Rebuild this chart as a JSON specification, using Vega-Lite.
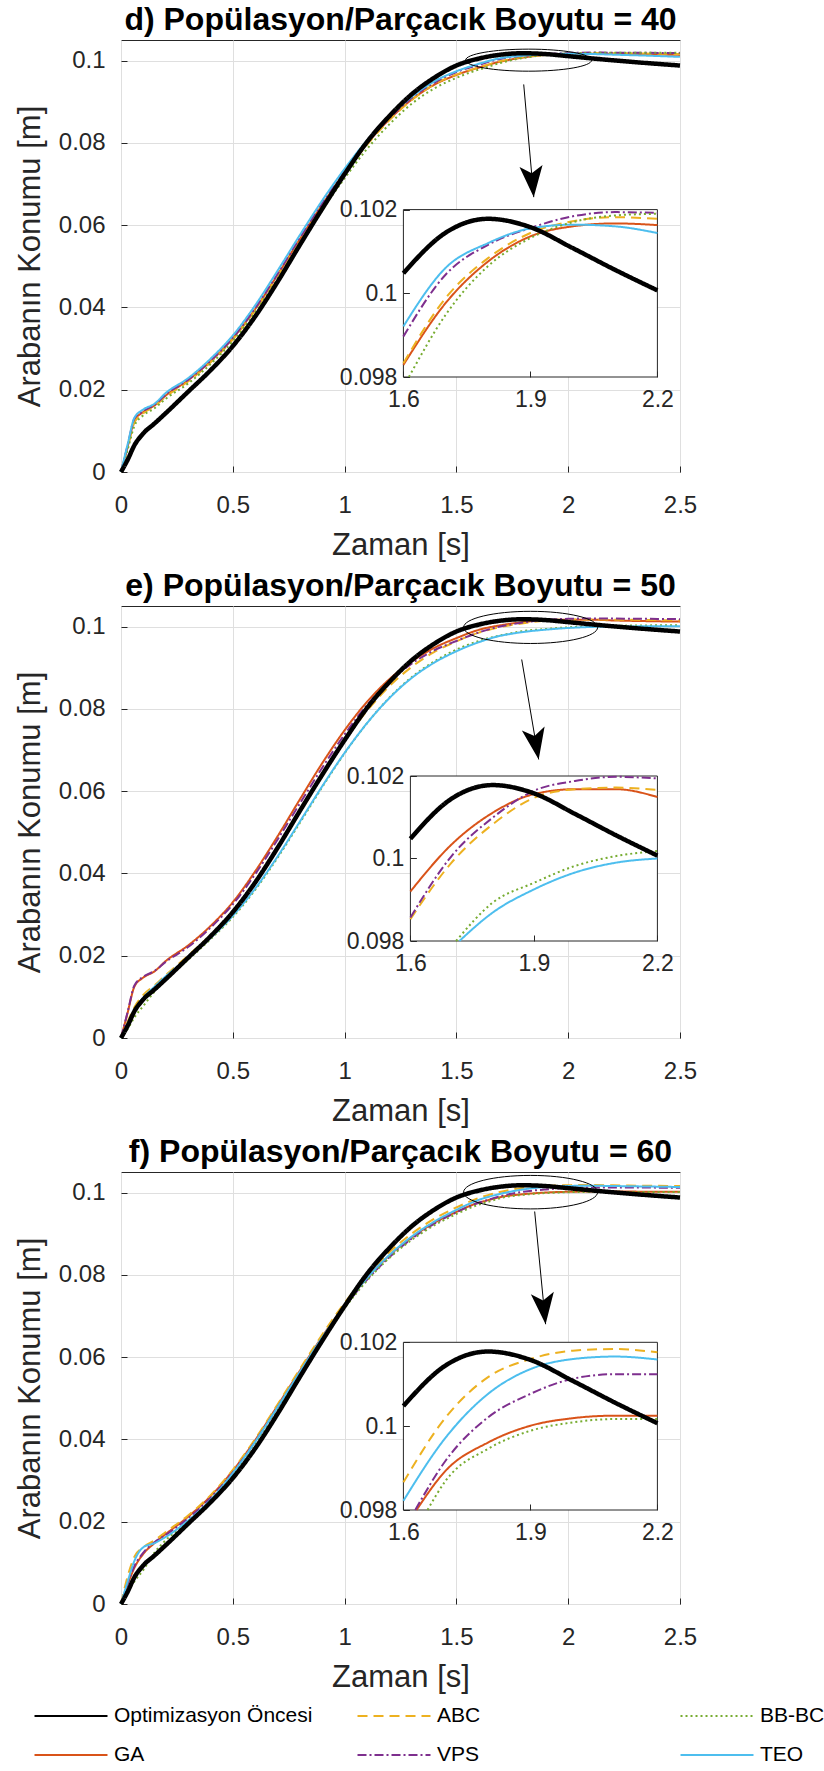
{
  "$schema": "https://vega.github.io/schema/vega-lite/v6.json",
  "background": "white",
  "padding": {"left": 13, "top": 3, "right": 5, "bottom": 5},
  "spacing": 8,
  "datasets": {
    "curves": [
      {"panel":"d","t":0,"GA":0,"ABC":0,"VPS":0,"BB-BC":0,"TEO":0,"Optimizasyon Öncesi":0},
      {"panel":"d","t":0.03,"GA":0.0062,"ABC":0.006,"VPS":0.0065,"BB-BC":0.0055,"TEO":0.0068,"Optimizasyon Öncesi":0.003},
      {"panel":"d","t":0.06,"GA":0.0125,"ABC":0.012,"VPS":0.013,"BB-BC":0.0112,"TEO":0.0132,"Optimizasyon Öncesi":0.0065},
      {"panel":"d","t":0.1,"GA":0.0146,"ABC":0.0143,"VPS":0.0148,"BB-BC":0.0138,"TEO":0.0152,"Optimizasyon Öncesi":0.0094},
      {"panel":"d","t":0.15,"GA":0.0162,"ABC":0.016,"VPS":0.0163,"BB-BC":0.0155,"TEO":0.0166,"Optimizasyon Öncesi":0.0118},
      {"panel":"d","t":0.2,"GA":0.0186,"ABC":0.0183,"VPS":0.0188,"BB-BC":0.0178,"TEO":0.0192,"Optimizasyon Öncesi":0.0143},
      {"panel":"d","t":0.3,"GA":0.0223,"ABC":0.022,"VPS":0.0224,"BB-BC":0.0215,"TEO":0.0228,"Optimizasyon Öncesi":0.0195},
      {"panel":"d","t":0.4,"GA":0.0269,"ABC":0.0266,"VPS":0.027,"BB-BC":0.0262,"TEO":0.0275,"Optimizasyon Öncesi":0.0247},
      {"panel":"d","t":0.5,"GA":0.0325,"ABC":0.0322,"VPS":0.0326,"BB-BC":0.0318,"TEO":0.0332,"Optimizasyon Öncesi":0.0306},
      {"panel":"d","t":0.6,"GA":0.0396,"ABC":0.0393,"VPS":0.0398,"BB-BC":0.0388,"TEO":0.0405,"Optimizasyon Öncesi":0.0378},
      {"panel":"d","t":0.7,"GA":0.0479,"ABC":0.0476,"VPS":0.0481,"BB-BC":0.0469,"TEO":0.0489,"Optimizasyon Öncesi":0.0462},
      {"panel":"d","t":0.8,"GA":0.0566,"ABC":0.0562,"VPS":0.0569,"BB-BC":0.0553,"TEO":0.0576,"Optimizasyon Öncesi":0.0552},
      {"panel":"d","t":0.9,"GA":0.065,"ABC":0.0646,"VPS":0.0653,"BB-BC":0.0637,"TEO":0.066,"Optimizasyon Öncesi":0.064},
      {"panel":"d","t":1.0,"GA":0.0728,"ABC":0.0724,"VPS":0.0731,"BB-BC":0.0714,"TEO":0.0737,"Optimizasyon Öncesi":0.0724},
      {"panel":"d","t":1.1,"GA":0.0798,"ABC":0.0795,"VPS":0.0801,"BB-BC":0.0785,"TEO":0.0806,"Optimizasyon Öncesi":0.0802},
      {"panel":"d","t":1.2,"GA":0.0857,"ABC":0.0855,"VPS":0.086,"BB-BC":0.0845,"TEO":0.0864,"Optimizasyon Öncesi":0.0865},
      {"panel":"d","t":1.3,"GA":0.0905,"ABC":0.0904,"VPS":0.0909,"BB-BC":0.0895,"TEO":0.0912,"Optimizasyon Öncesi":0.0918},
      {"panel":"d","t":1.4,"GA":0.0941,"ABC":0.0942,"VPS":0.0946,"BB-BC":0.0932,"TEO":0.0949,"Optimizasyon Öncesi":0.0958},
      {"panel":"d","t":1.5,"GA":0.0965,"ABC":0.0966,"VPS":0.0972,"BB-BC":0.0958,"TEO":0.0974,"Optimizasyon Öncesi":0.0988},
      {"panel":"d","t":1.6,"GA":0.09829,"ABC":0.09833,"VPS":0.09897,"BB-BC":0.0978,"TEO":0.09921,"Optimizasyon Öncesi":0.10048},
      {"panel":"d","t":1.7,"GA":0.09977,"ABC":0.09989,"VPS":0.10045,"BB-BC":0.09949,"TEO":0.10061,"Optimizasyon Öncesi":0.10145},
      {"panel":"d","t":1.8,"GA":0.10076,"ABC":0.10084,"VPS":0.10116,"BB-BC":0.10065,"TEO":0.1012,"Optimizasyon Öncesi":0.10178},
      {"panel":"d","t":1.9,"GA":0.10136,"ABC":0.10144,"VPS":0.10156,"BB-BC":0.10132,"TEO":0.10155,"Optimizasyon Öncesi":0.10158},
      {"panel":"d","t":2.0,"GA":0.1016,"ABC":0.10172,"VPS":0.10184,"BB-BC":0.1017,"TEO":0.10164,"Optimizasyon Öncesi":0.10108},
      {"panel":"d","t":2.1,"GA":0.10167,"ABC":0.10182,"VPS":0.10194,"BB-BC":0.10186,"TEO":0.1016,"Optimizasyon Öncesi":0.10056},
      {"panel":"d","t":2.2,"GA":0.10163,"ABC":0.10178,"VPS":0.10192,"BB-BC":0.1019,"TEO":0.10144,"Optimizasyon Öncesi":0.10007},
      {"panel":"d","t":2.35,"GA":0.10152,"ABC":0.1017,"VPS":0.10188,"BB-BC":0.10192,"TEO":0.1012,"Optimizasyon Öncesi":0.0994},
      {"panel":"d","t":2.5,"GA":0.10138,"ABC":0.1016,"VPS":0.10182,"BB-BC":0.1019,"TEO":0.1009,"Optimizasyon Öncesi":0.0988},
      {"panel":"d","t":1.613,"BB-BC":0.098},

      {"panel":"e","t":0,"GA":0,"ABC":0,"VPS":0,"BB-BC":0,"TEO":0,"Optimizasyon Öncesi":0},
      {"panel":"e","t":0.03,"GA":0.0062,"ABC":0.004,"VPS":0.0064,"BB-BC":0.0022,"TEO":0.0035,"Optimizasyon Öncesi":0.003},
      {"panel":"e","t":0.06,"GA":0.0125,"ABC":0.0075,"VPS":0.0128,"BB-BC":0.005,"TEO":0.0068,"Optimizasyon Öncesi":0.0065},
      {"panel":"e","t":0.1,"GA":0.0147,"ABC":0.0105,"VPS":0.0149,"BB-BC":0.0078,"TEO":0.0098,"Optimizasyon Öncesi":0.0094},
      {"panel":"e","t":0.15,"GA":0.0162,"ABC":0.0128,"VPS":0.0163,"BB-BC":0.0113,"TEO":0.0125,"Optimizasyon Öncesi":0.0118},
      {"panel":"e","t":0.2,"GA":0.0187,"ABC":0.0153,"VPS":0.0185,"BB-BC":0.0142,"TEO":0.015,"Optimizasyon Öncesi":0.0143},
      {"panel":"e","t":0.3,"GA":0.0225,"ABC":0.02,"VPS":0.0221,"BB-BC":0.019,"TEO":0.0195,"Optimizasyon Öncesi":0.0195},
      {"panel":"e","t":0.4,"GA":0.0272,"ABC":0.025,"VPS":0.0268,"BB-BC":0.024,"TEO":0.0243,"Optimizasyon Öncesi":0.0247},
      {"panel":"e","t":0.5,"GA":0.033,"ABC":0.0308,"VPS":0.0325,"BB-BC":0.0294,"TEO":0.0297,"Optimizasyon Öncesi":0.0306},
      {"panel":"e","t":0.6,"GA":0.0405,"ABC":0.0382,"VPS":0.0398,"BB-BC":0.036,"TEO":0.0363,"Optimizasyon Öncesi":0.0378},
      {"panel":"e","t":0.7,"GA":0.049,"ABC":0.0465,"VPS":0.0482,"BB-BC":0.0438,"TEO":0.0441,"Optimizasyon Öncesi":0.0462},
      {"panel":"e","t":0.8,"GA":0.058,"ABC":0.0553,"VPS":0.057,"BB-BC":0.0523,"TEO":0.0526,"Optimizasyon Öncesi":0.0552},
      {"panel":"e","t":0.9,"GA":0.0668,"ABC":0.064,"VPS":0.0657,"BB-BC":0.061,"TEO":0.0612,"Optimizasyon Öncesi":0.064},
      {"panel":"e","t":1.0,"GA":0.0748,"ABC":0.0722,"VPS":0.0738,"BB-BC":0.0692,"TEO":0.0693,"Optimizasyon Öncesi":0.0724},
      {"panel":"e","t":1.1,"GA":0.0817,"ABC":0.0795,"VPS":0.0809,"BB-BC":0.0765,"TEO":0.0765,"Optimizasyon Öncesi":0.0802},
      {"panel":"e","t":1.2,"GA":0.0872,"ABC":0.0855,"VPS":0.0866,"BB-BC":0.0827,"TEO":0.0826,"Optimizasyon Öncesi":0.0865},
      {"panel":"e","t":1.3,"GA":0.0915,"ABC":0.0902,"VPS":0.091,"BB-BC":0.0877,"TEO":0.0875,"Optimizasyon Öncesi":0.0918},
      {"panel":"e","t":1.4,"GA":0.0948,"ABC":0.0938,"VPS":0.0942,"BB-BC":0.0915,"TEO":0.0912,"Optimizasyon Öncesi":0.0958},
      {"panel":"e","t":1.5,"GA":0.0972,"ABC":0.0964,"VPS":0.0965,"BB-BC":0.0944,"TEO":0.094,"Optimizasyon Öncesi":0.0988},
      {"panel":"e","t":1.6,"GA":0.0992,"ABC":0.09853,"VPS":0.09857,"BB-BC":0.0965,"TEO":0.0962,"Optimizasyon Öncesi":0.10048},
      {"panel":"e","t":1.7,"GA":0.10034,"ABC":0.0999,"VPS":0.10006,"BB-BC":0.09788,"TEO":0.0978,"Optimizasyon Öncesi":0.10145},
      {"panel":"e","t":1.8,"GA":0.10111,"ABC":0.10083,"VPS":0.10099,"BB-BC":0.09893,"TEO":0.09869,"Optimizasyon Öncesi":0.10178},
      {"panel":"e","t":1.9,"GA":0.10156,"ABC":0.10147,"VPS":0.10164,"BB-BC":0.09941,"TEO":0.09925,"Optimizasyon Öncesi":0.10158},
      {"panel":"e","t":2.0,"GA":0.10168,"ABC":0.10168,"VPS":0.10188,"BB-BC":0.09982,"TEO":0.09966,"Optimizasyon Öncesi":0.10108},
      {"panel":"e","t":2.1,"GA":0.10168,"ABC":0.10172,"VPS":0.10198,"BB-BC":0.10006,"TEO":0.0999,"Optimizasyon Öncesi":0.10056},
      {"panel":"e","t":2.2,"GA":0.10149,"ABC":0.10166,"VPS":0.10194,"BB-BC":0.10018,"TEO":0.1,"Optimizasyon Öncesi":0.10007},
      {"panel":"e","t":2.35,"GA":0.10132,"ABC":0.1016,"VPS":0.10188,"BB-BC":0.10028,"TEO":0.10006,"Optimizasyon Öncesi":0.0994},
      {"panel":"e","t":2.5,"GA":0.1012,"ABC":0.1015,"VPS":0.1018,"BB-BC":0.10033,"TEO":0.1001,"Optimizasyon Öncesi":0.0988},
      {"panel":"e","t":1.711,"BB-BC":0.098},
      {"panel":"e","t":1.719,"TEO":0.098},

      {"panel":"f","t":0,"GA":0,"ABC":0,"VPS":0,"BB-BC":0,"TEO":0,"Optimizasyon Öncesi":0},
      {"panel":"f","t":0.03,"GA":0.0048,"ABC":0.0068,"VPS":0.005,"BB-BC":0.003,"TEO":0.0055,"Optimizasyon Öncesi":0.003},
      {"panel":"f","t":0.06,"GA":0.0088,"ABC":0.0115,"VPS":0.0092,"BB-BC":0.0055,"TEO":0.0105,"Optimizasyon Öncesi":0.0065},
      {"panel":"f","t":0.1,"GA":0.0122,"ABC":0.0138,"VPS":0.0125,"BB-BC":0.0083,"TEO":0.0138,"Optimizasyon Öncesi":0.0094},
      {"panel":"f","t":0.15,"GA":0.0148,"ABC":0.0155,"VPS":0.015,"BB-BC":0.0125,"TEO":0.0148,"Optimizasyon Öncesi":0.0118},
      {"panel":"f","t":0.2,"GA":0.017,"ABC":0.0175,"VPS":0.0168,"BB-BC":0.0155,"TEO":0.0163,"Optimizasyon Öncesi":0.0143},
      {"panel":"f","t":0.3,"GA":0.0212,"ABC":0.0215,"VPS":0.0208,"BB-BC":0.02,"TEO":0.0203,"Optimizasyon Öncesi":0.0195},
      {"panel":"f","t":0.4,"GA":0.0262,"ABC":0.0264,"VPS":0.0258,"BB-BC":0.0252,"TEO":0.0253,"Optimizasyon Öncesi":0.0247},
      {"panel":"f","t":0.5,"GA":0.0324,"ABC":0.0326,"VPS":0.032,"BB-BC":0.0316,"TEO":0.0318,"Optimizasyon Öncesi":0.0306},
      {"panel":"f","t":0.6,"GA":0.0398,"ABC":0.0401,"VPS":0.0395,"BB-BC":0.0391,"TEO":0.0394,"Optimizasyon Öncesi":0.0378},
      {"panel":"f","t":0.7,"GA":0.0482,"ABC":0.0485,"VPS":0.0478,"BB-BC":0.0474,"TEO":0.0478,"Optimizasyon Öncesi":0.0462},
      {"panel":"f","t":0.8,"GA":0.0567,"ABC":0.0571,"VPS":0.0563,"BB-BC":0.056,"TEO":0.0564,"Optimizasyon Öncesi":0.0552},
      {"panel":"f","t":0.9,"GA":0.065,"ABC":0.0655,"VPS":0.0646,"BB-BC":0.0643,"TEO":0.0648,"Optimizasyon Öncesi":0.064},
      {"panel":"f","t":1.0,"GA":0.0726,"ABC":0.0732,"VPS":0.0722,"BB-BC":0.0719,"TEO":0.0725,"Optimizasyon Öncesi":0.0724},
      {"panel":"f","t":1.1,"GA":0.0792,"ABC":0.0799,"VPS":0.0788,"BB-BC":0.0786,"TEO":0.0792,"Optimizasyon Öncesi":0.0802},
      {"panel":"f","t":1.2,"GA":0.0847,"ABC":0.0855,"VPS":0.0843,"BB-BC":0.0841,"TEO":0.0848,"Optimizasyon Öncesi":0.0865},
      {"panel":"f","t":1.3,"GA":0.0891,"ABC":0.09,"VPS":0.0888,"BB-BC":0.0885,"TEO":0.0893,"Optimizasyon Öncesi":0.0918},
      {"panel":"f","t":1.4,"GA":0.0926,"ABC":0.0936,"VPS":0.0924,"BB-BC":0.092,"TEO":0.0929,"Optimizasyon Öncesi":0.0958},
      {"panel":"f","t":1.5,"GA":0.0953,"ABC":0.0964,"VPS":0.0952,"BB-BC":0.0948,"TEO":0.0958,"Optimizasyon Öncesi":0.0988},
      {"panel":"f","t":1.6,"GA":0.09755,"ABC":0.09866,"VPS":0.09754,"BB-BC":0.09707,"TEO":0.09822,"Optimizasyon Öncesi":0.10048},
      {"panel":"f","t":1.7,"GA":0.09894,"ABC":0.10021,"VPS":0.09918,"BB-BC":0.0987,"TEO":0.09973,"Optimizasyon Öncesi":0.10145},
      {"panel":"f","t":1.8,"GA":0.09961,"ABC":0.10117,"VPS":0.10021,"BB-BC":0.09946,"TEO":0.10077,"Optimizasyon Öncesi":0.10178},
      {"panel":"f","t":1.9,"GA":0.10001,"ABC":0.1016,"VPS":0.10077,"BB-BC":0.09989,"TEO":0.10136,"Optimizasyon Öncesi":0.10158},
      {"panel":"f","t":2.0,"GA":0.10019,"ABC":0.1018,"VPS":0.10113,"BB-BC":0.10009,"TEO":0.1016,"Optimizasyon Öncesi":0.10108},
      {"panel":"f","t":2.1,"GA":0.10025,"ABC":0.10184,"VPS":0.10124,"BB-BC":0.10017,"TEO":0.10166,"Optimizasyon Öncesi":0.10056},
      {"panel":"f","t":2.2,"GA":0.10025,"ABC":0.10176,"VPS":0.10124,"BB-BC":0.10017,"TEO":0.10159,"Optimizasyon Öncesi":0.10007},
      {"panel":"f","t":2.35,"GA":0.10022,"ABC":0.10166,"VPS":0.10121,"BB-BC":0.10016,"TEO":0.10148,"Optimizasyon Öncesi":0.0994},
      {"panel":"f","t":2.5,"GA":0.1002,"ABC":0.1016,"VPS":0.10118,"BB-BC":0.10015,"TEO":0.10135,"Optimizasyon Öncesi":0.0988},
      {"panel":"f","t":1.628,"VPS":0.098},
      {"panel":"f","t":1.631,"GA":0.098},
      {"panel":"f","t":1.657,"BB-BC":0.098}
    ],
    "annot": [
      {"panel":"d","cx":1.823,"cy":0.1001,"ax":1.801,"ay":0.0942,"hx":1.846,"hy":0.0668},
      {"panel":"e","cx":1.832,"cy":0.0998,"ax":1.792,"ay":0.092,"hx":1.868,"hy":0.0677},
      {"panel":"f","cx":1.832,"cy":0.1001,"ax":1.85,"ay":0.0954,"hx":1.899,"hy":0.068}
    ],
    "frame": [{"box": 1}]
  },
  "vconcat": [
    {
      "width": 559, "height": 432,
      "title": {"text": "d) Popülasyon/Parçacık Boyutu = 40"},
      "data": {"name": "curves"},
      "transform": [
        {"filter": "datum.panel === 'd'"},
        {"fold": ["GA","ABC","VPS","BB-BC","TEO","Optimizasyon Öncesi"], "as": ["series","y"]},
        {"filter": "isValid(datum.y)"}
      ],
      "layer": [
        {
          "layer": [
            {
              "transform": [{"filter": "datum.series !== 'Optimizasyon Öncesi'"}],
              "mark": {"type": "line", "interpolate": "monotone", "strokeWidth": 2},
              "encoding": {
                "x": {"field": "t", "type": "quantitative", "title": "Zaman [s]", "scale": {"domain": [0, 2.5], "nice": false, "zero": false}, "axis": {"values": [0, 0.5, 1, 1.5, 2, 2.5], "format": "~g", "grid": true, "labelPadding": 27, "titlePadding": 13}},
                "y": {"field": "y", "type": "quantitative", "title": "Arabanın Konumu [m]", "scale": {"domain": [0, 0.105], "nice": false, "zero": false}, "axis": {"values": [0, 0.02, 0.04, 0.06, 0.08, 0.1], "format": "~g", "grid": true, "labelPadding": 22, "titlePadding": 12}},
                "color": {"field": "series", "type": "nominal", "scale": {"domain": ["Optimizasyon Öncesi","GA","ABC","VPS","BB-BC","TEO"], "range": ["#000000","#D95319","#EDB120","#7E2F8E","#77AC30","#4DBEEE"]}, "legend": {"orient": "none", "legendX": -67, "legendY": 1659, "columns": 3, "title": null, "symbolType": "M -2.3 0 L 2.3 0", "symbolSize": 1007, "labelOffset": 26, "columnPadding": 40, "rowPadding": 12, "gridAlign": "all"}},
                "strokeDash": {"field": "series", "type": "nominal", "scale": {"domain": ["Optimizasyon Öncesi","GA","ABC","VPS","BB-BC","TEO"], "range": [[1,0],[1,0],[10,6],[9,3,2,3],[2,3],[1,0]]}, "legend": {"orient": "none", "legendX": -67, "legendY": 1659, "columns": 3, "title": null, "symbolType": "M -2.3 0 L 2.3 0", "symbolSize": 1007, "labelOffset": 26, "columnPadding": 40, "rowPadding": 12, "gridAlign": "all"}}
              }
            },
            {
              "transform": [{"filter": "datum.series === 'Optimizasyon Öncesi'"}],
              "mark": {"type": "line", "interpolate": "monotone", "strokeWidth": 4.5},
              "encoding": {
                "x": {"field": "t", "type": "quantitative", "title": "Zaman [s]", "scale": {"domain": [0, 2.5], "nice": false, "zero": false}},
                "y": {"field": "y", "type": "quantitative", "title": "Arabanın Konumu [m]", "scale": {"domain": [0, 0.105], "nice": false, "zero": false}},
                "color": {"field": "series", "type": "nominal"},
                "strokeDash": {"field": "series", "type": "nominal"}
              }
            },
            {
              "data": {"name": "annot"},
              "transform": [{"filter": "datum.panel === 'd'"}],
              "mark": {"type": "point", "shape": "M -1 0 C -1 -0.0967 -0.5523 -0.175 0 -0.175 C 0.5523 -0.175 1 -0.0967 1 0 C 1 0.0967 0.5523 0.175 0 0.175 C -0.5523 0.175 -1 0.0967 -1 0 Z", "size": 15876, "filled": false, "color": "black", "strokeWidth": 1, "opacity": 1},
              "encoding": {
                "x": {"field": "cx", "type": "quantitative", "title": "Zaman [s]", "scale": {"domain": [0, 2.5], "nice": false, "zero": false}},
                "y": {"field": "cy", "type": "quantitative", "title": "Arabanın Konumu [m]", "scale": {"domain": [0, 0.105], "nice": false, "zero": false}}
              }
            },
            {
              "data": {"name": "annot"},
              "transform": [{"filter": "datum.panel === 'd'"}],
              "mark": {"type": "rule", "color": "black", "strokeWidth": 1},
              "encoding": {
                "x": {"field": "ax", "type": "quantitative", "title": "Zaman [s]", "scale": {"domain": [0, 2.5], "nice": false, "zero": false}},
                "y": {"field": "ay", "type": "quantitative", "title": "Arabanın Konumu [m]", "scale": {"domain": [0, 0.105], "nice": false, "zero": false}},
                "x2": {"field": "hx"},
                "y2": {"field": "hy"}
              }
            },
            {
              "data": {"name": "annot"},
              "transform": [{"filter": "datum.panel === 'd'"}],
              "mark": {"type": "point", "shape": "M 0 0 L -0.7 -1.9 L 0 -1.45 L 0.7 -1.9 Z", "size": 1089, "filled": true, "color": "black", "opacity": 1, "angle": -5},
              "encoding": {
                "x": {"field": "hx", "type": "quantitative", "title": "Zaman [s]", "scale": {"domain": [0, 2.5], "nice": false, "zero": false}},
                "y": {"field": "hy", "type": "quantitative", "title": "Arabanın Konumu [m]", "scale": {"domain": [0, 0.105], "nice": false, "zero": false}}
              }
            }
          ]
        },
        {
          "layer": [
            {
              "data": {"name": "frame"},
              "mark": {"type": "rect", "fill": "white", "stroke": "#262626", "strokeWidth": 1},
              "encoding": {
                "x": {"datum": 1.6, "type": "quantitative", "scale": {"domain": [1.6, 2.2], "range": [282.4, 536.4], "nice": false, "zero": false}, "axis": {"values": [1.6, 1.9, 2.2], "format": "~g", "grid": false, "orient": "bottom", "offset": -95, "labelPadding": 17, "title": null, "zindex": 1, "labelFontSize": 23}},
                "x2": {"datum": 2.2},
                "y": {"datum": 0.098, "type": "quantitative", "scale": {"domain": [0.098, 0.102], "range": [337, 169.6], "nice": false, "zero": false}, "axis": {"values": [0.098, 0.1, 0.102], "format": "~g", "grid": false, "orient": "left", "offset": -282.4, "labelPadding": 12.5, "title": null, "zindex": 1, "labelFontSize": 23}},
                "y2": {"datum": 0.102}
              }
            },
            {
              "transform": [{"filter": "datum.t >= 1.5999 && datum.t <= 2.2001 && datum.y >= 0.09799 && datum.series !== 'Optimizasyon Öncesi'"}],
              "mark": {"type": "line", "interpolate": "monotone", "strokeWidth": 2},
              "encoding": {
                "x": {"field": "t", "type": "quantitative", "scale": {"domain": [1.6, 2.2], "range": [282.4, 536.4], "nice": false, "zero": false}, "axis": {"values": [1.6, 1.9, 2.2], "format": "~g", "grid": false, "orient": "bottom", "offset": -95, "labelPadding": 17, "title": null, "zindex": 1, "labelFontSize": 23}},
                "y": {"field": "y", "type": "quantitative", "scale": {"domain": [0.098, 0.102], "range": [337, 169.6], "nice": false, "zero": false}, "axis": {"values": [0.098, 0.1, 0.102], "format": "~g", "grid": false, "orient": "left", "offset": -282.4, "labelPadding": 12.5, "title": null, "zindex": 1, "labelFontSize": 23}},
                "color": {"field": "series", "type": "nominal"},
                "strokeDash": {"field": "series", "type": "nominal"}
              }
            },
            {
              "transform": [{"filter": "datum.t >= 1.5999 && datum.t <= 2.2001 && datum.y >= 0.09799 && datum.series === 'Optimizasyon Öncesi'"}],
              "mark": {"type": "line", "interpolate": "monotone", "strokeWidth": 4.5},
              "encoding": {
                "x": {"field": "t", "type": "quantitative", "scale": {"domain": [1.6, 2.2], "range": [282.4, 536.4], "nice": false, "zero": false}, "axis": {"values": [1.6, 1.9, 2.2], "format": "~g", "grid": false, "orient": "bottom", "offset": -95, "labelPadding": 17, "title": null, "zindex": 1, "labelFontSize": 23}},
                "y": {"field": "y", "type": "quantitative", "scale": {"domain": [0.098, 0.102], "range": [337, 169.6], "nice": false, "zero": false}, "axis": {"values": [0.098, 0.1, 0.102], "format": "~g", "grid": false, "orient": "left", "offset": -282.4, "labelPadding": 12.5, "title": null, "zindex": 1, "labelFontSize": 23}},
                "color": {"field": "series", "type": "nominal"},
                "strokeDash": {"field": "series", "type": "nominal"}
              }
            }
          ]
        }
      ],
      "resolve": {"scale": {"x": "independent", "y": "independent"}}
    },
    {
      "width": 559, "height": 432,
      "title": {"text": "e) Popülasyon/Parçacık Boyutu = 50"},
      "data": {"name": "curves"},
      "transform": [
        {"filter": "datum.panel === 'e'"},
        {"fold": ["GA","ABC","VPS","BB-BC","TEO","Optimizasyon Öncesi"], "as": ["series","y"]},
        {"filter": "isValid(datum.y)"}
      ],
      "layer": [
        {
          "layer": [
            {
              "transform": [{"filter": "datum.series !== 'Optimizasyon Öncesi'"}],
              "mark": {"type": "line", "interpolate": "monotone", "strokeWidth": 2},
              "encoding": {
                "x": {"field": "t", "type": "quantitative", "title": "Zaman [s]", "scale": {"domain": [0, 2.5], "nice": false, "zero": false}, "axis": {"values": [0, 0.5, 1, 1.5, 2, 2.5], "format": "~g", "grid": true, "labelPadding": 27, "titlePadding": 13}},
                "y": {"field": "y", "type": "quantitative", "title": "Arabanın Konumu [m]", "scale": {"domain": [0, 0.105], "nice": false, "zero": false}, "axis": {"values": [0, 0.02, 0.04, 0.06, 0.08, 0.1], "format": "~g", "grid": true, "labelPadding": 22, "titlePadding": 12}},
                "color": {"field": "series", "type": "nominal"},
                "strokeDash": {"field": "series", "type": "nominal"}
              }
            },
            {
              "transform": [{"filter": "datum.series === 'Optimizasyon Öncesi'"}],
              "mark": {"type": "line", "interpolate": "monotone", "strokeWidth": 4.5},
              "encoding": {
                "x": {"field": "t", "type": "quantitative", "title": "Zaman [s]", "scale": {"domain": [0, 2.5], "nice": false, "zero": false}},
                "y": {"field": "y", "type": "quantitative", "title": "Arabanın Konumu [m]", "scale": {"domain": [0, 0.105], "nice": false, "zero": false}},
                "color": {"field": "series", "type": "nominal"},
                "strokeDash": {"field": "series", "type": "nominal"}
              }
            },
            {
              "data": {"name": "annot"},
              "transform": [{"filter": "datum.panel === 'e'"}],
              "mark": {"type": "point", "shape": "M -1 0 C -1 -0.1326 -0.5523 -0.24 0 -0.24 C 0.5523 -0.24 1 -0.1326 1 0 C 1 0.1326 0.5523 0.24 0 0.24 C -0.5523 0.24 -1 0.1326 -1 0 Z", "size": 17956, "filled": false, "color": "black", "strokeWidth": 1, "opacity": 1},
              "encoding": {
                "x": {"field": "cx", "type": "quantitative", "title": "Zaman [s]", "scale": {"domain": [0, 2.5], "nice": false, "zero": false}},
                "y": {"field": "cy", "type": "quantitative", "title": "Arabanın Konumu [m]", "scale": {"domain": [0, 0.105], "nice": false, "zero": false}}
              }
            },
            {
              "data": {"name": "annot"},
              "transform": [{"filter": "datum.panel === 'e'"}],
              "mark": {"type": "rule", "color": "black", "strokeWidth": 1},
              "encoding": {
                "x": {"field": "ax", "type": "quantitative", "title": "Zaman [s]", "scale": {"domain": [0, 2.5], "nice": false, "zero": false}},
                "y": {"field": "ay", "type": "quantitative", "title": "Arabanın Konumu [m]", "scale": {"domain": [0, 0.105], "nice": false, "zero": false}},
                "x2": {"field": "hx"},
                "y2": {"field": "hy"}
              }
            },
            {
              "data": {"name": "annot"},
              "transform": [{"filter": "datum.panel === 'e'"}],
              "mark": {"type": "point", "shape": "M 0 0 L -0.7 -1.9 L 0 -1.45 L 0.7 -1.9 Z", "size": 1089, "filled": true, "color": "black", "opacity": 1, "angle": -10},
              "encoding": {
                "x": {"field": "hx", "type": "quantitative", "title": "Zaman [s]", "scale": {"domain": [0, 2.5], "nice": false, "zero": false}},
                "y": {"field": "hy", "type": "quantitative", "title": "Arabanın Konumu [m]", "scale": {"domain": [0, 0.105], "nice": false, "zero": false}}
              }
            }
          ]
        },
        {
          "layer": [
            {
              "data": {"name": "frame"},
              "mark": {"type": "rect", "fill": "white", "stroke": "#262626", "strokeWidth": 1},
              "encoding": {
                "x": {"datum": 1.6, "type": "quantitative", "scale": {"domain": [1.6, 2.2], "range": [289.4, 536.4], "nice": false, "zero": false}, "axis": {"values": [1.6, 1.9, 2.2], "format": "~g", "grid": false, "orient": "bottom", "offset": -97, "labelPadding": 17, "title": null, "zindex": 1, "labelFontSize": 23}},
                "x2": {"datum": 2.2},
                "y": {"datum": 0.098, "type": "quantitative", "scale": {"domain": [0.098, 0.102], "range": [335, 170], "nice": false, "zero": false}, "axis": {"values": [0.098, 0.1, 0.102], "format": "~g", "grid": false, "orient": "left", "offset": -289.4, "labelPadding": 12.5, "title": null, "zindex": 1, "labelFontSize": 23}},
                "y2": {"datum": 0.102}
              }
            },
            {
              "transform": [{"filter": "datum.t >= 1.5999 && datum.t <= 2.2001 && datum.y >= 0.09799 && datum.series !== 'Optimizasyon Öncesi'"}],
              "mark": {"type": "line", "interpolate": "monotone", "strokeWidth": 2},
              "encoding": {
                "x": {"field": "t", "type": "quantitative", "scale": {"domain": [1.6, 2.2], "range": [289.4, 536.4], "nice": false, "zero": false}, "axis": {"values": [1.6, 1.9, 2.2], "format": "~g", "grid": false, "orient": "bottom", "offset": -97, "labelPadding": 17, "title": null, "zindex": 1, "labelFontSize": 23}},
                "y": {"field": "y", "type": "quantitative", "scale": {"domain": [0.098, 0.102], "range": [335, 170], "nice": false, "zero": false}, "axis": {"values": [0.098, 0.1, 0.102], "format": "~g", "grid": false, "orient": "left", "offset": -289.4, "labelPadding": 12.5, "title": null, "zindex": 1, "labelFontSize": 23}},
                "color": {"field": "series", "type": "nominal"},
                "strokeDash": {"field": "series", "type": "nominal"}
              }
            },
            {
              "transform": [{"filter": "datum.t >= 1.5999 && datum.t <= 2.2001 && datum.y >= 0.09799 && datum.series === 'Optimizasyon Öncesi'"}],
              "mark": {"type": "line", "interpolate": "monotone", "strokeWidth": 4.5},
              "encoding": {
                "x": {"field": "t", "type": "quantitative", "scale": {"domain": [1.6, 2.2], "range": [289.4, 536.4], "nice": false, "zero": false}, "axis": {"values": [1.6, 1.9, 2.2], "format": "~g", "grid": false, "orient": "bottom", "offset": -97, "labelPadding": 17, "title": null, "zindex": 1, "labelFontSize": 23}},
                "y": {"field": "y", "type": "quantitative", "scale": {"domain": [0.098, 0.102], "range": [335, 170], "nice": false, "zero": false}, "axis": {"values": [0.098, 0.1, 0.102], "format": "~g", "grid": false, "orient": "left", "offset": -289.4, "labelPadding": 12.5, "title": null, "zindex": 1, "labelFontSize": 23}},
                "color": {"field": "series", "type": "nominal"},
                "strokeDash": {"field": "series", "type": "nominal"}
              }
            }
          ]
        }
      ],
      "resolve": {"scale": {"x": "independent", "y": "independent"}}
    },
    {
      "width": 559, "height": 432,
      "title": {"text": "f) Popülasyon/Parçacık Boyutu = 60"},
      "data": {"name": "curves"},
      "transform": [
        {"filter": "datum.panel === 'f'"},
        {"fold": ["GA","ABC","VPS","BB-BC","TEO","Optimizasyon Öncesi"], "as": ["series","y"]},
        {"filter": "isValid(datum.y)"}
      ],
      "layer": [
        {
          "layer": [
            {
              "transform": [{"filter": "datum.series !== 'Optimizasyon Öncesi'"}],
              "mark": {"type": "line", "interpolate": "monotone", "strokeWidth": 2},
              "encoding": {
                "x": {"field": "t", "type": "quantitative", "title": "Zaman [s]", "scale": {"domain": [0, 2.5], "nice": false, "zero": false}, "axis": {"values": [0, 0.5, 1, 1.5, 2, 2.5], "format": "~g", "grid": true, "labelPadding": 27, "titlePadding": 13}},
                "y": {"field": "y", "type": "quantitative", "title": "Arabanın Konumu [m]", "scale": {"domain": [0, 0.105], "nice": false, "zero": false}, "axis": {"values": [0, 0.02, 0.04, 0.06, 0.08, 0.1], "format": "~g", "grid": true, "labelPadding": 22, "titlePadding": 12}},
                "color": {"field": "series", "type": "nominal"},
                "strokeDash": {"field": "series", "type": "nominal"}
              }
            },
            {
              "transform": [{"filter": "datum.series === 'Optimizasyon Öncesi'"}],
              "mark": {"type": "line", "interpolate": "monotone", "strokeWidth": 4.5},
              "encoding": {
                "x": {"field": "t", "type": "quantitative", "title": "Zaman [s]", "scale": {"domain": [0, 2.5], "nice": false, "zero": false}},
                "y": {"field": "y", "type": "quantitative", "title": "Arabanın Konumu [m]", "scale": {"domain": [0, 0.105], "nice": false, "zero": false}},
                "color": {"field": "series", "type": "nominal"},
                "strokeDash": {"field": "series", "type": "nominal"}
              }
            },
            {
              "data": {"name": "annot"},
              "transform": [{"filter": "datum.panel === 'f'"}],
              "mark": {"type": "point", "shape": "M -1 0 C -1 -0.1381 -0.5523 -0.25 0 -0.25 C 0.5523 -0.25 1 -0.1381 1 0 C 1 0.1381 0.5523 0.25 0 0.25 C -0.5523 0.25 -1 0.1381 -1 0 Z", "size": 17956, "filled": false, "color": "black", "strokeWidth": 1, "opacity": 1},
              "encoding": {
                "x": {"field": "cx", "type": "quantitative", "title": "Zaman [s]", "scale": {"domain": [0, 2.5], "nice": false, "zero": false}},
                "y": {"field": "cy", "type": "quantitative", "title": "Arabanın Konumu [m]", "scale": {"domain": [0, 0.105], "nice": false, "zero": false}}
              }
            },
            {
              "data": {"name": "annot"},
              "transform": [{"filter": "datum.panel === 'f'"}],
              "mark": {"type": "rule", "color": "black", "strokeWidth": 1},
              "encoding": {
                "x": {"field": "ax", "type": "quantitative", "title": "Zaman [s]", "scale": {"domain": [0, 2.5], "nice": false, "zero": false}},
                "y": {"field": "ay", "type": "quantitative", "title": "Arabanın Konumu [m]", "scale": {"domain": [0, 0.105], "nice": false, "zero": false}},
                "x2": {"field": "hx"},
                "y2": {"field": "hy"}
              }
            },
            {
              "data": {"name": "annot"},
              "transform": [{"filter": "datum.panel === 'f'"}],
              "mark": {"type": "point", "shape": "M 0 0 L -0.7 -1.9 L 0 -1.45 L 0.7 -1.9 Z", "size": 1089, "filled": true, "color": "black", "opacity": 1, "angle": -6},
              "encoding": {
                "x": {"field": "hx", "type": "quantitative", "title": "Zaman [s]", "scale": {"domain": [0, 2.5], "nice": false, "zero": false}},
                "y": {"field": "hy", "type": "quantitative", "title": "Arabanın Konumu [m]", "scale": {"domain": [0, 0.105], "nice": false, "zero": false}}
              }
            }
          ]
        },
        {
          "layer": [
            {
              "data": {"name": "frame"},
              "mark": {"type": "rect", "fill": "white", "stroke": "#262626", "strokeWidth": 1},
              "encoding": {
                "x": {"datum": 1.6, "type": "quantitative", "scale": {"domain": [1.6, 2.2], "range": [282.4, 536.4], "nice": false, "zero": false}, "axis": {"values": [1.6, 1.9, 2.2], "format": "~g", "grid": false, "orient": "bottom", "offset": -94, "labelPadding": 17, "title": null, "zindex": 1, "labelFontSize": 23}},
                "x2": {"datum": 2.2},
                "y": {"datum": 0.098, "type": "quantitative", "scale": {"domain": [0.098, 0.102], "range": [338, 170.3], "nice": false, "zero": false}, "axis": {"values": [0.098, 0.1, 0.102], "format": "~g", "grid": false, "orient": "left", "offset": -282.4, "labelPadding": 12.5, "title": null, "zindex": 1, "labelFontSize": 23}},
                "y2": {"datum": 0.102}
              }
            },
            {
              "transform": [{"filter": "datum.t >= 1.5999 && datum.t <= 2.2001 && datum.y >= 0.09799 && datum.series !== 'Optimizasyon Öncesi'"}],
              "mark": {"type": "line", "interpolate": "monotone", "strokeWidth": 2},
              "encoding": {
                "x": {"field": "t", "type": "quantitative", "scale": {"domain": [1.6, 2.2], "range": [282.4, 536.4], "nice": false, "zero": false}, "axis": {"values": [1.6, 1.9, 2.2], "format": "~g", "grid": false, "orient": "bottom", "offset": -94, "labelPadding": 17, "title": null, "zindex": 1, "labelFontSize": 23}},
                "y": {"field": "y", "type": "quantitative", "scale": {"domain": [0.098, 0.102], "range": [338, 170.3], "nice": false, "zero": false}, "axis": {"values": [0.098, 0.1, 0.102], "format": "~g", "grid": false, "orient": "left", "offset": -282.4, "labelPadding": 12.5, "title": null, "zindex": 1, "labelFontSize": 23}},
                "color": {"field": "series", "type": "nominal"},
                "strokeDash": {"field": "series", "type": "nominal"}
              }
            },
            {
              "transform": [{"filter": "datum.t >= 1.5999 && datum.t <= 2.2001 && datum.y >= 0.09799 && datum.series === 'Optimizasyon Öncesi'"}],
              "mark": {"type": "line", "interpolate": "monotone", "strokeWidth": 4.5},
              "encoding": {
                "x": {"field": "t", "type": "quantitative", "scale": {"domain": [1.6, 2.2], "range": [282.4, 536.4], "nice": false, "zero": false}, "axis": {"values": [1.6, 1.9, 2.2], "format": "~g", "grid": false, "orient": "bottom", "offset": -94, "labelPadding": 17, "title": null, "zindex": 1, "labelFontSize": 23}},
                "y": {"field": "y", "type": "quantitative", "scale": {"domain": [0.098, 0.102], "range": [338, 170.3], "nice": false, "zero": false}, "axis": {"values": [0.098, 0.1, 0.102], "format": "~g", "grid": false, "orient": "left", "offset": -282.4, "labelPadding": 12.5, "title": null, "zindex": 1, "labelFontSize": 23}},
                "color": {"field": "series", "type": "nominal"},
                "strokeDash": {"field": "series", "type": "nominal"}
              }
            }
          ]
        }
      ],
      "resolve": {"scale": {"x": "independent", "y": "independent"}}
    }
  ],
  "config": {
    "font": "Liberation Sans",
    "view": {"stroke": "#262626", "strokeWidth": 1},
    "title": {"fontSize": 32, "fontWeight": "bold", "color": "#000000", "offset": 3, "anchor": "middle", "frame": "group"},
    "axis": {"labelFontSize": 24, "labelColor": "#262626", "titleFontSize": 31, "titleFontWeight": "normal", "titleColor": "#262626", "domain": false, "tickColor": "#262626", "tickSize": -6, "tickWidth": 1, "gridColor": "#dfdfdf", "gridWidth": 1, "labelFlush": false, "labelOverlap": false, "labelBound": false},
    "legend": {"labelFontSize": 21, "labelColor": "#000000", "labelLimit": 400, "symbolStrokeWidth": 2, "padding": 0}
  }
}
